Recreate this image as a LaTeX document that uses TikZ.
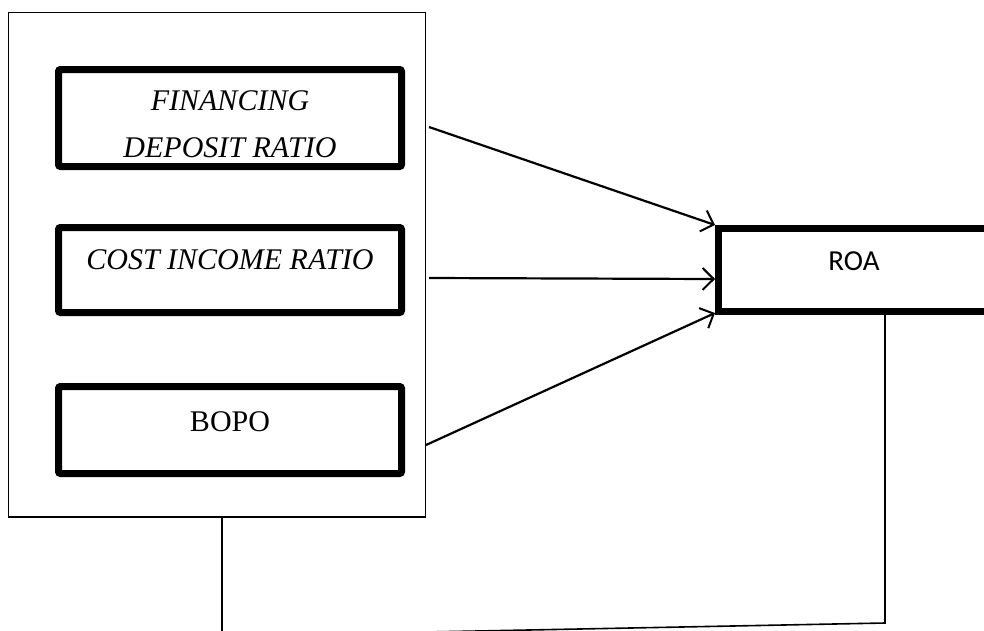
\documentclass[tikz,border=0pt]{standalone}
\usepackage{fontspec}
\setmainfont{Liberation Serif}
\newfontfamily\calibrifont{Carlito}
\usetikzlibrary{arrows.meta, positioning}

\begin{document}
\begin{tikzpicture}[
  x=1pt, y=-1pt,
  grpbox/.style={draw, line width=1.2pt, minimum width=416.8pt,
    minimum height=504.8pt, inner sep=0pt},
  varbox/.style={draw, line width=7pt, rounded corners=2pt,
    minimum width=343pt, inner sep=0pt},
  depbox/.style={draw, line width=7pt, minimum width=271pt,
    minimum height=83pt, inner sep=0pt},
  vlabel/.style={font=\fontsize{30}{47}\selectfont, align=center,
    anchor=base, inner sep=0pt},
  link/.style={-{Straight Barb[length=11pt, width=22pt, line width=2pt]},
    line width=2.2pt},
  back/.style={line width=1.6pt},
]
  \useasboundingbox (0,0) rectangle (984,630);
  \clip (0,0) rectangle (984,630);
  \fill[white] (0,0) rectangle (984,630);

  % Independent variables
  \node[grpbox] (grp) at (217,264.5) {};
  \node[varbox, minimum height=97pt] (fdr)  at (230,118) {};
  \node[varbox, minimum height=85pt] (cir)  at (230,270) {};
  \node[varbox, minimum height=87pt] (bopo) at (230,430) {};
  \node[vlabel, font=\fontsize{30}{47}\selectfont\itshape] (fdrtxt)
    at ([yshift=-91pt]fdr.north) {FINANCING\\DEPOSIT RATIO};
  \node[vlabel, font=\fontsize{30}{47}\selectfont\itshape] (cirtxt)
    at ([yshift=-45pt]cir.north) {COST INCOME RATIO};
  \node[vlabel] (bopotxt) at ([yshift=-48pt]bopo.north) {BOPO};

  % Dependent variable
  \node[depbox] (roa) at (854,270) {};
  \node[vlabel, font=\calibrifont\fontsize{29}{35}\selectfont] (roatxt)
    at ([yshift=-45pt]roa.north) {ROA};

  % Arrows
  \coordinate (fdrout)  at (429,127);
  \coordinate (cirout)  at (429,278);
  \coordinate (bopoout) at (426,445);
  \draw[link] (fdrout)  -- (roa.north west);
  \draw[link] (cirout)  -- ([yshift=-9pt]roa.west);
  \draw[link] (bopoout) -- ([yshift=2pt]roa.south west);

  % Return line
  \draw[back] ([xshift=31pt]roa.south) -- (885,623) -- (222,636)
    -- ([xshift=5pt]grp.south);
\end{tikzpicture}
\end{document}
